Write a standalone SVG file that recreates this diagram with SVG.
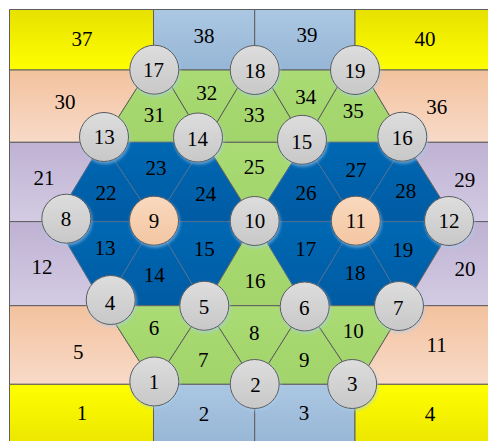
<svg xmlns="http://www.w3.org/2000/svg" width="488" height="441" viewBox="0 0 488 441">
<defs>
<linearGradient id="gYT" x1="0" y1="0" x2="0" y2="1"><stop offset="0" stop-color="#e6e100"/><stop offset="1" stop-color="#ffff00"/></linearGradient>
<linearGradient id="gYB" x1="0" y1="0" x2="0" y2="1"><stop offset="0" stop-color="#ffff00"/><stop offset="1" stop-color="#ebe500"/></linearGradient>
<linearGradient id="gSky" x1="0" y1="0" x2="0" y2="1"><stop offset="0" stop-color="#abc7e2"/><stop offset="1" stop-color="#96b6d6"/></linearGradient>
<linearGradient id="gPeach" x1="0" y1="0" x2="0" y2="1"><stop offset="0" stop-color="#f3c29e"/><stop offset="1" stop-color="#f8dac8"/></linearGradient>
<linearGradient id="gLilac" x1="0" y1="0" x2="0" y2="1"><stop offset="0" stop-color="#bfb2d3"/><stop offset="1" stop-color="#d3cbe3"/></linearGradient>
<linearGradient id="gGreen" x1="0" y1="0" x2="0" y2="1"><stop offset="0" stop-color="#aadb74"/><stop offset="1" stop-color="#a2d46b"/></linearGradient>
<linearGradient id="gBlue" x1="0" y1="0" x2="0" y2="1"><stop offset="0" stop-color="#0068b3"/><stop offset="1" stop-color="#005ba3"/></linearGradient>
<linearGradient id="gNode" x1="0" y1="0" x2="0" y2="1"><stop offset="0" stop-color="#dddddd"/><stop offset="1" stop-color="#c8c8c8"/></linearGradient>
<linearGradient id="gNodeP" x1="0" y1="0" x2="0" y2="1"><stop offset="0" stop-color="#f9d9be"/><stop offset="1" stop-color="#f3c6a2"/></linearGradient>
<filter id="glow" x="-30%" y="-30%" width="160%" height="160%"><feDropShadow dx="1" dy="2" stdDeviation="1.5" flood-color="#a8cdf0" flood-opacity="0.55"/></filter>
</defs>
<style>
.c{stroke:#5e5e5e;stroke-width:1;stroke-linejoin:round}
.yt{fill:url(#gYT)} .yb{fill:url(#gYB)} .sky{fill:url(#gSky)} .pe{fill:url(#gPeach)} .li{fill:url(#gLilac)} .gr{fill:url(#gGreen)} .bl{fill:url(#gBlue);stroke:#4a6f95}
.n circle{fill:url(#gNode);stroke:#5a5a5a;stroke-width:1;filter:url(#glow)}
.n.p circle{fill:url(#gNodeP)}
text{font-family:"Liberation Serif","Times New Roman",serif;font-size:21px;fill:#000;text-anchor:middle}
</style>
<g id="cells">
<g id="cell-37"><rect class="c yt" x="9.5" y="9.5" width="144" height="60.5"/><text x="82" y="46">37</text></g>
<g id="cell-38"><rect class="c sky" x="153.5" y="9.5" width="101.2" height="60.5"/><text x="204" y="43">38</text></g>
<g id="cell-39"><rect class="c sky" x="254.7" y="9.5" width="100.3" height="60.5"/><text x="307" y="42">39</text></g>
<g id="cell-40"><rect class="c yt" x="355" y="9.5" width="140" height="60.5"/><text x="425" y="46">40</text></g>

<g id="cell-30"><polygon class="c pe" points="9.5,70 148.4,70 102.5,142.3 9.5,142.3"/><text x="65" y="108.5">30</text></g>
<g id="cell-31"><polygon class="c gr" points="148.4,70 161.7,70 205,142.3 102.5,142.3"/><text x="154.3" y="122">31</text></g>
<g id="cell-32"><polygon class="c gr" points="161.7,70 248.3,70 205,142.3"/><text x="206.7" y="99.5">32</text></g>
<g id="cell-33"><polygon class="c gr" points="248.3,70 261.7,70 305,142.3 205,142.3"/><text x="254.3" y="122">33</text></g>
<g id="cell-34"><polygon class="c gr" points="261.7,70 347.3,70 305,142.3"/><text x="305.7" y="103.5">34</text></g>
<g id="cell-35"><polygon class="c gr" points="347.3,70 362.3,70 405.5,142.3 305,142.3"/><text x="353.3" y="118">35</text></g>
<g id="cell-36"><polygon class="c pe" points="362.3,70 495,70 495,142.3 405.5,142.3"/><text x="436.7" y="113.5">36</text></g>

<g id="cell-21"><polygon class="c li" points="9.5,142.3 102.5,142.3 54.5,221.6 9.5,221.6"/><text x="44" y="185">21</text></g>
<g id="cell-22"><polygon class="c bl" points="102.5,142.3 155,221.6 54.5,221.6"/><text x="106" y="200.3">22</text></g>
<g id="cell-23"><polygon class="c bl" points="102.5,142.3 205,142.3 155,221.6"/><text x="156" y="174.7">23</text></g>
<g id="cell-24"><polygon class="c bl" points="205,142.3 254.5,221.6 155,221.6"/><text x="205.7" y="201">24</text></g>
<g id="cell-25"><polygon class="c gr" points="205,142.3 305,142.3 254.5,221.6"/><text x="254.3" y="173.7">25</text></g>
<g id="cell-26"><polygon class="c bl" points="305,142.3 355.5,221.6 254.5,221.6"/><text x="306" y="200.3">26</text></g>
<g id="cell-27"><polygon class="c bl" points="305,142.3 405.5,142.3 355.5,221.6"/><text x="356" y="177">27</text></g>
<g id="cell-28"><polygon class="c bl" points="405.5,142.3 455.3,221.6 355.5,221.6"/><text x="405.7" y="198">28</text></g>
<g id="cell-29"><polygon class="c li" points="405.5,142.3 495,142.3 495,221.6 455.3,221.6"/><text x="464.7" y="187">29</text></g>

<g id="cell-12"><polygon class="c li" points="9.5,221.6 54.5,221.6 104,305.7 9.5,305.7"/><text x="42" y="274">12</text></g>
<g id="cell-13"><polygon class="c bl" points="54.5,221.6 155,221.6 104,305.7"/><text x="105" y="255.3">13</text></g>
<g id="cell-14"><polygon class="c bl" points="155,221.6 205,305.7 104,305.7"/><text x="154.3" y="282">14</text></g>
<g id="cell-15"><polygon class="c bl" points="155,221.6 254.5,221.6 205,305.7"/><text x="204.3" y="256">15</text></g>
<g id="cell-16"><polygon class="c gr" points="254.5,221.6 305,305.7 205,305.7"/><text x="255" y="287.7">16</text></g>
<g id="cell-17"><polygon class="c bl" points="254.5,221.6 355.5,221.6 305,305.7"/><text x="305.7" y="256">17</text></g>
<g id="cell-18"><polygon class="c bl" points="355.5,221.6 405,305.7 305,305.7"/><text x="355" y="280.3">18</text></g>
<g id="cell-19"><polygon class="c bl" points="355.5,221.6 455.3,221.6 405,305.7"/><text x="402.7" y="257">19</text></g>
<g id="cell-20"><polygon class="c li" points="455.3,221.6 495,221.6 495,305.7 405,305.7"/><text x="465" y="276">20</text></g>

<g id="cell-5"><polygon class="c pe" points="9.5,305.7 104,305.7 154,384.3 9.5,384.3"/><text x="78.3" y="358.7">5</text></g>
<g id="cell-6"><polygon class="c gr" points="104,305.7 205,305.7 154,384.3"/><text x="154" y="335.3">6</text></g>
<g id="cell-7"><polygon class="c gr" points="205,305.7 255.5,384.3 154,384.3"/><text x="203.3" y="367">7</text></g>
<g id="cell-8"><polygon class="c gr" points="205,305.7 305,305.7 255.5,384.3"/><text x="254.3" y="340.3">8</text></g>
<g id="cell-9"><polygon class="c gr" points="305,305.7 357.5,384.3 255.5,384.3"/><text x="304.3" y="367">9</text></g>
<g id="cell-10"><polygon class="c gr" points="305,305.7 405,305.7 357.5,384.3"/><text x="353.3" y="338">10</text></g>
<g id="cell-11"><polygon class="c pe" points="405,305.7 495,305.7 495,384.3 357.5,384.3"/><text x="436.7" y="352">11</text></g>

<g id="cell-1"><rect class="c yb" x="9.5" y="384.3" width="144" height="62"/><text x="82" y="420">1</text></g>
<g id="cell-2"><rect class="c sky" x="153.5" y="384.3" width="101.2" height="62"/><text x="204" y="421">2</text></g>
<g id="cell-3"><rect class="c sky" x="254.7" y="384.3" width="100.3" height="62"/><text x="304" y="420">3</text></g>
<g id="cell-4"><rect class="c yb" x="355" y="384.3" width="140" height="62"/><text x="430" y="421">4</text></g>
</g>
<g id="connectors"/>
<g id="nodes">
<g id="node-17" class="n"><circle cx="154.3" cy="69.7" r="24.5"/><text x="153.5" y="76.5">17</text></g>
<g id="node-18" class="n"><circle cx="254.7" cy="70" r="24.5"/><text x="255" y="77.5">18</text></g>
<g id="node-19" class="n"><circle cx="355" cy="70" r="24.5"/><text x="355" y="77.5">19</text></g>
<g id="node-13" class="n"><circle cx="104" cy="137" r="24.5"/><text x="104.3" y="144.3">13</text></g>
<g id="node-14" class="n"><circle cx="198" cy="137.5" r="24.5"/><text x="197.5" y="146">14</text></g>
<g id="node-15" class="n"><circle cx="302" cy="139.8" r="24.5"/><text x="301.7" y="148.5">15</text></g>
<g id="node-16" class="n"><circle cx="402.3" cy="136.7" r="24.5"/><text x="402.3" y="145">16</text></g>
<g id="node-8" class="n"><circle cx="66.3" cy="218.7" r="24.5"/><text x="66" y="226">8</text></g>
<g id="node-9" class="n p"><circle cx="154" cy="220.7" r="24.5"/><text x="154" y="228">9</text></g>
<g id="node-10" class="n"><circle cx="254.7" cy="221" r="24.5"/><text x="254.7" y="228.3">10</text></g>
<g id="node-11" class="n p"><circle cx="355.8" cy="220.7" r="24.5"/><text x="355.8" y="228">11</text></g>
<g id="node-12" class="n"><circle cx="449" cy="221" r="24.5"/><text x="449" y="228.3">12</text></g>
<g id="node-4" class="n"><circle cx="110.7" cy="300" r="24.5"/><text x="110" y="310">4</text></g>
<g id="node-5" class="n"><circle cx="204.3" cy="305.8" r="24.5"/><text x="204" y="314">5</text></g>
<g id="node-6" class="n"><circle cx="304.7" cy="306.5" r="24.5"/><text x="304.3" y="314.5">6</text></g>
<g id="node-7" class="n"><circle cx="399" cy="306" r="24.5"/><text x="398.3" y="315">7</text></g>
<g id="node-1" class="n"><circle cx="154.3" cy="381.5" r="24.5"/><text x="154" y="388.5">1</text></g>
<g id="node-2" class="n"><circle cx="254.7" cy="384" r="24.5"/><text x="255.5" y="391.7">2</text></g>
<g id="node-3" class="n"><circle cx="352.2" cy="384" r="24.5"/><text x="352.3" y="391">3</text></g>
</g>
</svg>
